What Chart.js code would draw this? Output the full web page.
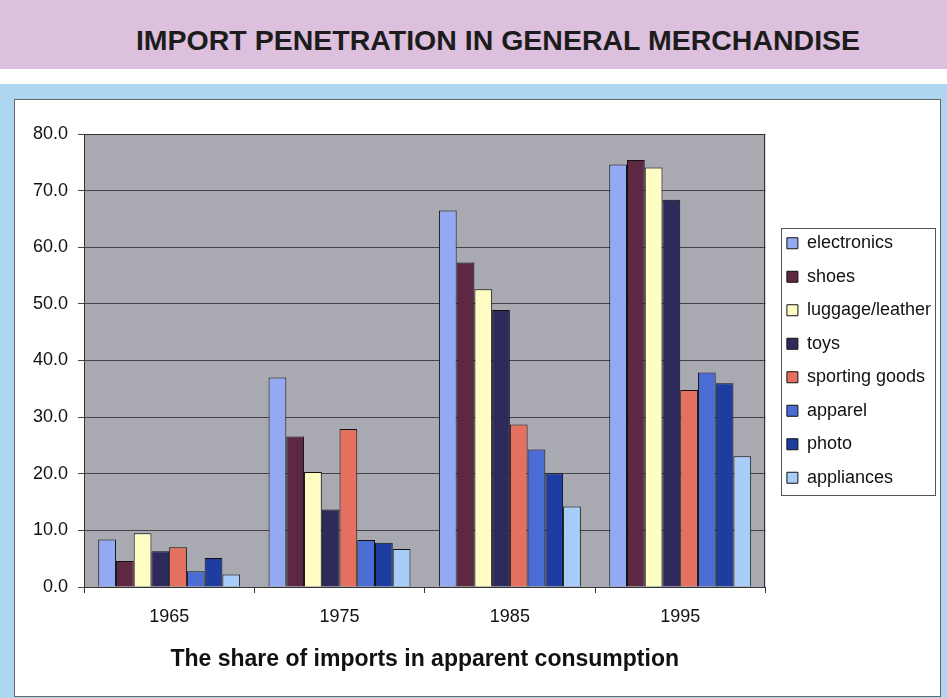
<!DOCTYPE html>
<html>
<head>
<meta charset="utf-8">
<script src="https://cdn.jsdelivr.net/npm/chart.js@4/dist/chart.umd.min.js"></script>
<style>
	html, body { margin: 0; padding: 0; }
	body { width: 947px; height: 698px; position: relative; overflow: hidden; background: #fff; font-family: 'Liberation Sans', Arial, sans-serif; }
	.banner { position: absolute; left: 0; top: 0; width: 947px; height: 69px; background: #dcc0dd; }
	.banner h1 { margin: 0; padding-left: 49px; line-height: 80px; text-align: center; font-size: 28.5px; font-weight: bold; color: #1c1c1c; }
	.frame { position: absolute; left: 0; top: 84px; width: 947px; height: 614px; background: #afd6f1; }
	.panel { position: absolute; left: 14px; top: 99px; width: 925px; height: 596px; background: #fff; border: 1px solid #666; }
	#chartWrap { position: absolute; left: 0; top: 0; width: 947px; height: 698px; }
</style>
</head>
<body>
<div class="banner"><h1>IMPORT PENETRATION IN GENERAL MERCHANDISE</h1></div>
<div class="frame"></div>
<div class="panel"></div>
<div id="chartWrap"><canvas id="importChart" width="947" height="698"></canvas></div>
<script>
var years = ['1965', '1975', '1985', '1995'];
var yTicks = [0, 10, 20, 30, 40, 50, 60, 70, 80];

var electronics = [8.4, 37.0, 66.5, 74.6];
var shoes = [4.6, 26.6, 57.3, 75.4];
var luggage = [9.5, 20.3, 52.6, 74.1];
var toys = [6.3, 13.7, 48.9, 68.4];
var sporting = [7.0, 27.9, 28.7, 34.8];
var apparel = [2.8, 8.3, 24.3, 37.9];
var photo = [5.1, 7.8, 20.1, 36.0];
var appliances = [2.2, 6.7, 14.2, 23.1];

var fontName = "'Liberation Sans', Arial, sans-serif";

function makeSet(label, data, color) {
	return {
		label: label,
		data: data,
		backgroundColor: color,
		borderColor: '#111',
		borderWidth: 1,
		categoryPercentage: 0.833,
		barPercentage: 1.0
	};
}

// grey plot background + black frame, like the old excel chart
var plotBack = {
	id: 'plotBack',
	afterLayout: function(chart) {
		// nudge the legend a bit away from the plot
		chart.legend.left += 6;
		chart.legend.right += 6;
	},
	beforeDraw: function(chart) {
		var a = chart.chartArea;
		var ctx = chart.ctx;
		ctx.save();
		ctx.fillStyle = '#a9a9b1';
		ctx.fillRect(a.left, a.top, a.right - a.left, a.bottom - a.top);
		ctx.restore();
	},
	afterDraw: function(chart) {
		var a = chart.chartArea;
		var ctx = chart.ctx;
		ctx.save();
		ctx.strokeStyle = '#333';
		ctx.lineWidth = 1;
		ctx.strokeRect(Math.round(a.left) + 0.5, Math.round(a.top) + 0.5, Math.round(a.right - a.left) - 1, Math.round(a.bottom - a.top));
		// box round the legend
		var boxes = chart.legend.legendHitBoxes;
		if (boxes && boxes.length) {
			var l = boxes[0].left, r = 0, t = boxes[0].top, b = 0;
			boxes.forEach(function(h) {
				l = Math.min(l, h.left);
				r = Math.max(r, h.left + h.width);
				b = Math.max(b, h.top + h.height);
			});
			ctx.strokeStyle = '#555';
			ctx.strokeRect(Math.round(l - 6) + 0.5, Math.round(t - 6) + 0.5, Math.round(r - l + 10), Math.round(b - t + 14));
		}
		ctx.restore();
	}
};

var ctx = document.getElementById('importChart').getContext('2d');
var importChart = new Chart(ctx, {
	type: 'bar',
	data: {
		labels: years,
		datasets: [
			makeSet('electronics', electronics, '#94a9f3'),
			makeSet('shoes', shoes, '#5e2742'),
			makeSet('luggage/leather', luggage, '#fffcc4'),
			makeSet('toys', toys, '#2f2a5c'),
			makeSet('sporting goods', sporting, '#e5705f'),
			makeSet('apparel', apparel, '#4a6cd4'),
			makeSet('photo', photo, '#1e3da0'),
			makeSet('appliances', appliances, '#a9cdf9')
		]
	},
	options: {
		responsive: false,
		animation: false,
		layout: {
			padding: { left: 0, top: 134, right: 12, bottom: 0 }
		},
		plugins: {
			title: { display: false },
			tooltip: { enabled: false },
			legend: {
				position: 'right',
				fullSize: false,
				labels: {
					boxWidth: 11,
					boxHeight: 11,
					padding: 15.5,
					color: '#111',
					font: { family: fontName, size: 18 }
				}
			}
		},
		scales: {
			x: {
				offset: true,
				grid: {
					offset: true,
					drawOnChartArea: false,
					drawTicks: true,
					tickLength: 6,
					color: '#333'
				},
				border: { color: '#333' },
				ticks: {
					padding: 13,
					color: '#111',
					font: { family: fontName, size: 18 }
				},
				title: {
					display: true,
					text: 'The share of imports in apparent consumption',
					color: '#111',
					padding: { top: 0, bottom: 25 },
					font: { family: fontName, size: 23, weight: 'bold' }
				},
				afterFit: function(scale) { scale.height = 111; }
			},
			y: {
				min: 0,
				max: 80,
				afterBuildTicks: function(scale) {
					scale.ticks = yTicks.map(function(v) { return { value: v }; });
				},
				grid: {
					color: '#444',
					tickLength: 6
				},
				border: { color: '#333' },
				ticks: {
					padding: 10,
					color: '#111',
					font: { family: fontName, size: 18 },
					callback: function(v) { return Number(v).toFixed(1); }
				},
				afterFit: function(scale) { scale.width = 84; }
			}
		}
	},
	plugins: [plotBack]
});
</script>
</body>
</html>
